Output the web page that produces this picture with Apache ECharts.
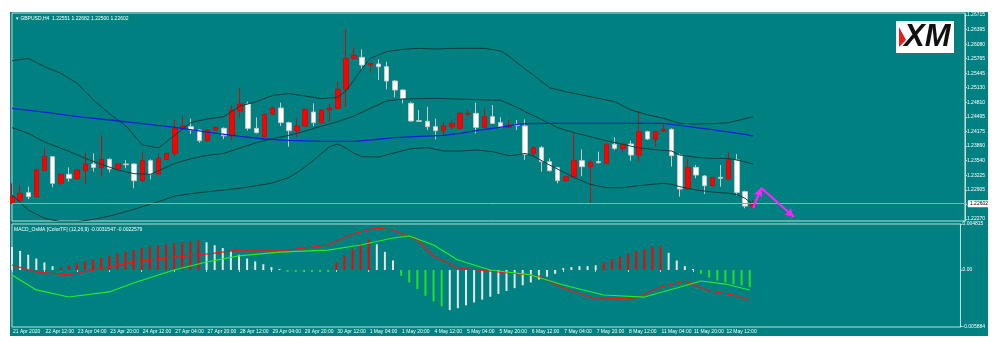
<!DOCTYPE html>
<html>
<head>
<meta charset="utf-8">
<script src="https://cdn.jsdelivr.net/npm/echarts@6.0.0/dist/echarts.min.js"></script>
<style>
  html, body { margin: 0; padding: 0; background: #ffffff; }
  #chart { position: absolute; left: 10px; top: 12px; width: 978px; height: 324px; background: #008080; }
</style>
</head>
<body>
<div id="chart"></div>
<script>
// GBPUSD H4 bars, 21 Apr 20:00 .. 12 May 20:00
const opens = [1.22625,1.22669,1.22843,1.22756,1.23323,1.23628,1.23047,1.23243,1.23148,1.23323,
  1.23468,1.23395,1.23570,1.23366,1.23468,1.23468,1.23105,1.23541,1.23250,1.23570,
  1.23700,1.24260,1.24281,1.24209,1.23976,1.24209,1.24245,1.24085,1.24630,1.24776,
  1.24245,1.24064,1.24558,1.24688,1.24369,1.24194,1.24296,1.24601,1.24369,1.24645,
  1.24681,1.25095,1.25771,1.25792,1.25625,1.25647,1.25589,1.25277,1.25081,1.24790,
  1.24412,1.24398,1.24281,1.24194,1.24281,1.24245,1.24558,1.24572,1.24267,1.24500,
  1.24369,1.24267,1.24332,1.24296,1.23700,1.23824,1.23519,1.23388,1.23105,1.23192,
  1.23541,1.23410,1.23519,1.23483,1.23897,1.23809,1.23904,1.23664,1.24173,1.24013,
  1.24187,1.24223,1.23664,1.22923,1.23395,1.23206,1.22996,1.23177,1.23141,1.23555,
  1.22865,1.22551];
const highs = [1.23047,1.23010,1.22974,1.23374,1.23824,1.23628,1.23250,1.23395,1.23345,1.23700,
  1.23700,1.24100,1.23592,1.23483,1.23555,1.23483,1.23737,1.23570,1.23700,1.23715,
  1.24441,1.24514,1.24456,1.24223,1.24223,1.24296,1.24267,1.24754,1.25117,1.24826,
  1.24485,1.24572,1.24717,1.24805,1.24391,1.24463,1.24681,1.24790,1.24659,1.24776,
  1.25262,1.26403,1.26010,1.25967,1.25662,1.25749,1.25698,1.25299,1.25095,1.24826,
  1.24645,1.24717,1.24456,1.24391,1.24427,1.24608,1.24645,1.24805,1.24681,1.24754,
  1.24485,1.24427,1.24427,1.24441,1.23860,1.23860,1.23592,1.23410,1.23206,1.24136,
  1.23788,1.23570,1.23737,1.23918,1.24049,1.23933,1.23976,1.24630,1.24194,1.24194,
  1.24340,1.24245,1.23700,1.23570,1.23446,1.23228,1.23192,1.23446,1.23737,1.23686,
  1.22887,1.22682];
const lows = [1.22596,1.22647,1.22698,1.22741,1.23323,1.22959,1.23010,1.23083,1.23134,1.23032,
  1.23301,1.23192,1.23286,1.23352,1.23374,1.22938,1.23090,1.23134,1.23236,1.23555,
  1.23628,1.24209,1.24122,1.23933,1.23962,1.24194,1.24013,1.23991,1.24478,1.24194,
  1.24136,1.24049,1.24536,1.24296,1.23846,1.24049,1.24282,1.24296,1.24354,1.24391,
  1.24659,1.24717,1.25749,1.25516,1.25480,1.25299,1.25095,1.24921,1.24790,1.24391,
  1.24383,1.24209,1.24005,1.24100,1.24209,1.24223,1.24499,1.24136,1.24245,1.24340,
  1.24245,1.24245,1.24209,1.23555,1.23613,1.23301,1.23301,1.23047,1.23083,1.23177,
  1.23206,1.22611,1.23483,1.23468,1.23773,1.23715,1.23541,1.23519,1.23991,1.23846,
  1.24173,1.23410,1.22756,1.22901,1.23156,1.22814,1.22974,1.22974,1.23119,1.22778,
  1.22502,1.22500];
const closes = [1.22756,1.22829,1.22756,1.23337,1.23628,1.23047,1.23243,1.23156,1.23337,1.23468,
  1.23395,1.23570,1.23359,1.23468,1.23453,1.23105,1.23541,1.23250,1.23592,1.23700,
  1.24245,1.24296,1.24209,1.23976,1.24209,1.24267,1.24085,1.24645,1.24776,1.24245,
  1.24151,1.24550,1.24688,1.24369,1.24194,1.24296,1.24659,1.24369,1.24645,1.24688,
  1.25095,1.25771,1.25836,1.25625,1.25662,1.25589,1.25277,1.25081,1.24899,1.24405,
  1.24398,1.24281,1.24194,1.24296,1.24354,1.24572,1.24572,1.24267,1.24500,1.24354,
  1.24267,1.24318,1.24311,1.23679,1.23824,1.23519,1.23323,1.23105,1.23192,1.23541,
  1.23410,1.23504,1.23497,1.23897,1.23809,1.23904,1.23664,1.24173,1.24013,1.24173,
  1.24223,1.23650,1.22923,1.23395,1.23228,1.22996,1.23177,1.23156,1.23570,1.22850,
  1.22551,1.22602];

// Bollinger bands (20,2) and blue moving average: [bar, price]
const upperBand = [[0,1.25720],[2,1.25771],[4,1.25589],[6,1.25444],[8,1.25226],[10,1.24863],[12,1.24558],
  [14,1.24296],[16,1.23882],[18,1.23817],[20,1.24100],[22,1.24376],[24,1.24449],[26,1.24499],[28,1.24732],
  [30,1.24826],[32,1.24964],[34,1.25001],[36,1.24950],[38,1.24892],[40,1.24921],[41,1.25066],[42,1.25299],
  [43,1.25553],[44,1.25771],[46,1.25916],[48,1.25967],[50,1.25989],[52,1.25974],[54,1.25989],[56,1.25989],
  [58,1.25989],[60,1.25930],[61,1.25821],[62,1.25676],[63,1.25538],[64,1.25407],[66,1.25131],[68,1.25044],
  [70,1.24972],[72,1.24899],[74,1.24826],[76,1.24645],[78,1.24543],[80,1.24463],[82,1.24354],[84,1.24340],
  [86,1.24347],[88,1.24369],[90,1.24456],[91,1.24499]];
const middleBand = [[0,1.24260],[2,1.24136],[4,1.23947],[7,1.23744],[9,1.23591],[11,1.23461],[13,1.23337],
  [15,1.23257],[17,1.23243],[18,1.23323],[20,1.23483],[22,1.23584],[24,1.23657],[26,1.23700],[28,1.23817],
  [30,1.23933],[32,1.24020],[34,1.24093],[36,1.24187],[38,1.24296],[40,1.24391],[42,1.24514],[44,1.24681],
  [46,1.24841],[48,1.24884],[50,1.24892],[52,1.24899],[56,1.24877],[60,1.24855],[62,1.24703],[63,1.24608],
  [65,1.24441],[67,1.24260],[69,1.24151],[71,1.24064],[73,1.23976],[75,1.23897],[77,1.23817],[79,1.23780],
  [81,1.23751],[82,1.23664],[84,1.23613],[86,1.23591],[88,1.23591],[89,1.23555],[91,1.23468]];
const lowerBand = [[0,1.22792],[2,1.22466],[4,1.22284],[6,1.22211],[8,1.22211],[10,1.22262],[12,1.22335],
  [14,1.22429],[16,1.22538],[18,1.22647],[20,1.22771],[22,1.22822],[24,1.22865],[26,1.22901],[28,1.22938],
  [30,1.22996],[32,1.23054],[34,1.23177],[35,1.23279],[36,1.23410],[37,1.23541],[38,1.23700],[39,1.23846],
  [40,1.23904],[41,1.23817],[42,1.23700],[43,1.23628],[45,1.23620],[47,1.23715],[49,1.23802],[51,1.23824],
  [53,1.23751],[55,1.23751],[57,1.23773],[59,1.23737],[61,1.23650],[62,1.23664],[63,1.23700],[64,1.23642],
  [66,1.23446],[68,1.23265],[69,1.23177],[71,1.23025],[73,1.22952],[75,1.22952],[77,1.22996],[79,1.23032],
  [80,1.23047],[81,1.23025],[82,1.22974],[84,1.22901],[86,1.22858],[88,1.22829],[89,1.22800],[90,1.22720],
  [91,1.22589]];
const maLine = [[0,1.24681],[4,1.24601],[8,1.24499],[12,1.24427],[16,1.24347],[20,1.24267],[24,1.24165],
  [28,1.24071],[31,1.24013],[34,1.23984],[38,1.23962],[42,1.23962],[44,1.23991],[47,1.24042],[50,1.24071],
  [53,1.24093],[55,1.24136],[57,1.24194],[59,1.24245],[61,1.24296],[62,1.24332],[63,1.24347],[66,1.24354],
  [70,1.24354],[75,1.24354],[80,1.24354],[82,1.24311],[84,1.24260],[86,1.24216],[88,1.24165],[90,1.24114],
  [91,1.24078]];

// MACD_OsMA window
const osma = [0.0024,0.0020,0.0016,0.0012,0.0008,0.0004,
  0.0003,0.0005,0.0007,0.0009,0.0011,0.0013,0.0015,0.0017,0.0019,0.0021,0.0023,0.0025,0.0026,0.0027,0.0028,0.0029,0.0030,0.0031,
  0.0029,0.0026,0.0023,0.0020,0.0016,0.0012,0.0009,0.0006,0.0003,0.0001,
  -0.0002,-0.0002,-0.0002,-0.0002,-0.0002,-0.0002,
  0.0008,0.0015,0.0022,0.0028,0.0032,
  0.0027,0.0019,0.0010,
  -0.0006,-0.0013,-0.0020,-0.0027,-0.0033,-0.0038,
  -0.0042,-0.0040,-0.0037,-0.0034,-0.0031,-0.0028,-0.0025,-0.0022,-0.0019,-0.0016,-0.0013,-0.0010,-0.0007,-0.0004,
  0.0002,0.0003,0.0004,0.0004,0.0005,
  0.0008,0.0011,0.0014,0.0017,0.0020,0.0022,0.0024,0.0025,
  0.0018,0.0010,0.0004,0.0001,
  -0.0004,-0.0008,-0.0011,-0.0013,-0.0015,-0.0016,-0.0018];
const osmaColors = 'wwwwwwrrrrrrrrrrrrrrrrrrwwwwwwwwwwggggggrrrrrwwwggggggwwwwwwwwwwwwwwwwwwwrrrrrrrrwwwwggggggg';
const macdMain = [[0,0.00052],[3,-0.00021],[7,-0.00052],[10,0.00000],[15,0.00084],[19,0.00126],[23,0.00157],
  [28,0.00209],[34,0.00209],[39,0.00262],[42,0.00377],[45,0.00440],[47,0.00419],[50,0.00314],[52,0.00147],
  [55,0.00021],[60,-0.00021],[65,-0.00063],[68,-0.00188],[72,-0.00304],[77,-0.00293],[80,-0.00178],
  [83,-0.00115],[86,-0.00220],[89,-0.00262],[91,-0.00314]];
const macdSignal = [[0,-0.00052],[3,-0.00209],[7,-0.00283],[12,-0.00230],[15,-0.00136],[20,0.00000],[24,0.00084],
  [28,0.00147],[33,0.00188],[39,0.00209],[43,0.00262],[47,0.00335],[49,0.00356],[52,0.00262],[55,0.00105],
  [59,0.00000],[64,-0.00052],[68,-0.00157],[73,-0.00262],[78,-0.00283],[82,-0.00188],[85,-0.00115],
  [88,-0.00147],[91,-0.00209]];

const timeLabels = ['21 Apr 2020','22 Apr 12:00','23 Apr 04:00','23 Apr 20:00','24 Apr 12:00','27 Apr 04:00',
  '27 Apr 20:00','28 Apr 12:00','29 Apr 04:00','29 Apr 20:00','30 Apr 12:00','1 May 04:00','1 May 20:00',
  '4 May 12:00','5 May 04:00','5 May 20:00','6 May 12:00','7 May 04:00','7 May 20:00','8 May 12:00',
  '11 May 04:00','11 May 20:00','12 May 12:00'];
const priceTicks = [1.22270,1.22590,1.22905,1.23225,1.23540,1.23860,1.24175,1.24495,1.24810,1.25130,
  1.25445,1.25765,1.26080,1.26395,1.26715];
const macdTicks = [0.004815, 0, -0.005884];
const arrowPath = [[91,1.22509],[92,1.22945],[96,1.22313]];

const SLOTS = 118;
const LABEL_STEP = 4;
const FONT = 'Liberation Sans';
const categories = [];
for (let i = 0; i < SLOTS; i++) categories.push(String(i));

const candleData = opens.map((o, i) => [o, closes[i], lows[i], highs[i]]);
const lastClose = closes[closes.length - 1];
const colorOf = { r: '#ff0000', w: '#e6e6e6', g: '#22e022' };

const chart = echarts.init(document.getElementById('chart'), null, { renderer: 'canvas' });

const xBase = {
  type: 'category',
  data: categories,
  boundaryGap: false,
  axisLine: { show: false },
  splitLine: { show: false }
};
const labelAt = (idx) => idx % LABEL_STEP === 0 && idx / LABEL_STEP < timeLabels.length;

const bandLine = (name, data) => ({
  name, type: 'line', data, xAxisIndex: 0, yAxisIndex: 0,
  showSymbol: false, symbol: 'none', connectNulls: true, silent: true,
  lineStyle: { color: '#123c3c', width: 1 }
});

const option = {
  animation: false,
  backgroundColor: 'transparent',
  textStyle: { fontFamily: FONT },
  grid: [
    { left: 2, right: 21, top: 1, height: 208, show: true, borderColor: '#c8d8d8', borderWidth: 1 },
    { left: 2, right: 21, top: 212, height: 103, show: true, borderColor: '#c8d8d8', borderWidth: 1 }
  ],
  xAxis: [
    Object.assign({}, xBase, { gridIndex: 0, axisTick: { show: false }, axisLabel: { show: false } }),
    Object.assign({}, xBase, {
      gridIndex: 1,
      axisTick: { show: true, interval: labelAt, length: 2, lineStyle: { color: '#c8d8d8' } },
      axisLabel: {
        show: true, interval: labelAt, color: '#ffffff', fontSize: 5, fontFamily: FONT,
        align: 'left', margin: 2, padding: [0, 0, 0, 1],
        formatter: (v, idx) => timeLabels[idx / LABEL_STEP] || ''
      }
    })
  ],
  yAxis: [
    {
      gridIndex: 0, type: 'value', position: 'right', min: 1.22226, max: 1.26759, scale: true,
      splitLine: { show: false },
      axisLine: { show: true, lineStyle: { color: '#c8d8d8' } },
      axisTick: { show: true, length: 2, customValues: priceTicks, lineStyle: { color: '#c8d8d8' } },
      axisLabel: {
        show: true, customValues: priceTicks, color: '#ffffff', fontSize: 5, fontFamily: FONT, margin: 2,
        formatter: (v) => v.toFixed(5)
      }
    },
    {
      gridIndex: 1, type: 'value', position: 'right', min: -0.005968, max: 0.004816,
      splitLine: { show: false },
      axisLine: { show: true, lineStyle: { color: '#c8d8d8' } },
      axisTick: { show: true, length: 2, customValues: macdTicks, lineStyle: { color: '#c8d8d8' } },
      axisLabel: {
        show: true, customValues: macdTicks, color: '#ffffff', fontSize: 5, fontFamily: FONT, margin: 2,
        formatter: (v) => (v === 0 ? '0.00' : String(v))
      }
    }
  ],
  series: [
    bandLine('upper', upperBand),
    bandLine('middle', middleBand),
    bandLine('lower', lowerBand),
    {
      name: 'ma', type: 'line', data: maLine, showSymbol: false, symbol: 'none', silent: true,
      lineStyle: { color: '#1020d8', width: 1.3 }
    },
    {
      name: 'GBPUSD', type: 'candlestick', data: candleData, xAxisIndex: 0, yAxisIndex: 0,
      barWidth: 5, silent: true,
      itemStyle: { color: '#ff0000', color0: '#ffffff', borderColor: '#c01010', borderColor0: '#c8c8c8', borderWidth: 1 }
    },
    {
      name: 'bid', type: 'line', data: [], xAxisIndex: 0, yAxisIndex: 0, silent: true,
      markLine: {
        silent: true, symbol: 'none', animation: false, precision: 5,
        lineStyle: { color: '#7fb5b5', width: 1, type: 'solid' },
        label: {
          show: true, position: 'end', distance: 3, formatter: () => lastClose.toFixed(5),
          color: '#000000', backgroundColor: '#ffffff', fontSize: 5, fontFamily: FONT, padding: [1, 2, 1, 2]
        },
        data: [{ yAxis: lastClose }]
      }
    },
    {
      name: 'arrow', type: 'line', data: [], xAxisIndex: 0, yAxisIndex: 0, silent: true,
      markLine: {
        silent: true, animation: false, precision: 5, symbol: ['none', 'arrow'], symbolSize: [7, 9],
        lineStyle: { color: '#ff22ff', width: 2.2, type: 'solid' },
        label: { show: false },
        data: [
          [{ coord: arrowPath[0] }, { coord: arrowPath[1] }],
          [{ coord: arrowPath[1] }, { coord: arrowPath[2] }]
        ]
      }
    },
    {
      name: 'OsMA', type: 'bar', data: osma, xAxisIndex: 1, yAxisIndex: 1, barWidth: 2, silent: true,
      itemStyle: { color: (p) => colorOf[osmaColors[p.dataIndex]] || '#e6e6e6' }
    },
    {
      name: 'MACD', type: 'line', data: macdMain, xAxisIndex: 1, yAxisIndex: 1, showSymbol: false, symbol: 'none',
      silent: true, lineStyle: { color: '#ff1010', width: 1.2 }
    },
    {
      name: 'Signal', type: 'line', data: macdSignal, xAxisIndex: 1, yAxisIndex: 1, showSymbol: false, symbol: 'none',
      silent: true, lineStyle: { color: '#22ee22', width: 1.2 }
    }
  ],
  graphic: [
    {
      type: 'text', left: 6, top: 4,
      style: { text: '\u25BE GBPUSD,H4  1.22551 1.22682 1.22500 1.22602', fill: '#ffffff', font: '5px "Liberation Sans"' }
    },
    {
      type: 'text', left: 4, top: 215,
      style: { text: 'MACD_OsMA [ColorTF] (12,26,9) -0.0031547 -0.0022579', fill: '#ffffff', font: '5px "Liberation Sans"' }
    },
    {
      type: 'group', left: 886, top: 9,
      children: [
        { type: 'rect', shape: { x: 0, y: 0, width: 58, height: 32 }, style: { fill: '#ffffff' } },
        { type: 'polygon', shape: { points: [[3, 6], [10, 19], [3, 26]] }, style: { fill: '#ee1c1c' } },
        {
          type: 'text', x: 8, y: 1,
          style: { text: 'XM', fill: '#111111', font: 'italic bold 31px "Liberation Sans"' }
        }
      ]
    }
  ]
};

chart.setOption(option);
</script>
</body>
</html>
